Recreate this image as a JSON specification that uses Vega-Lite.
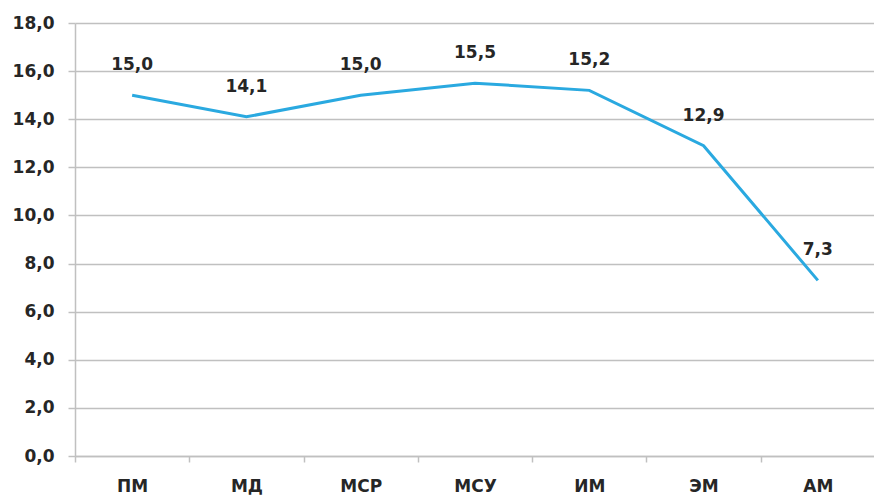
{
  "$schema": "https://vega.github.io/schema/vega-lite/v6.json",
  "width": 800,
  "height": 433,
  "autosize": "none",
  "padding": {"left": 75, "top": 23, "right": 0, "bottom": 41},
  "background": "white",
  "config": {
    "locale": {"number": {"decimal": ",", "thousands": " ", "grouping": [3], "currency": ["", " ₽"]}},
    "view": {"stroke": null},
    "font": "DejaVu Sans"
  },
  "data": {
    "values": [
      {"cat": "ПМ", "v": 15.0},
      {"cat": "МД", "v": 14.1},
      {"cat": "МСР", "v": 15.0},
      {"cat": "МСУ", "v": 15.5},
      {"cat": "ИМ", "v": 15.2},
      {"cat": "ЭМ", "v": 12.9},
      {"cat": "АМ", "v": 7.3}
    ]
  },
  "encoding": {
    "x": {
      "field": "cat", "type": "nominal", "sort": null, "bandPosition": 0.5,
      "scale": {"type": "band", "paddingInner": 0, "paddingOuter": 0},
      "axis": {
        "title": null, "labelAngle": 0, "labelFont": "DejaVu Sans", "labelFontWeight": "bold",
        "labelFontSize": 17, "labelColor": "#262626", "labelPadding": 16,
        "domainColor": "#c0c0c0", "domainWidth": 1.5, "tickColor": "#c0c0c0", "tickWidth": 1.5,
        "tickSize": 6, "tickBand": "extent", "grid": false
      }
    },
    "y": {
      "field": "v", "type": "quantitative",
      "scale": {"domain": [0, 18], "nice": false},
      "axis": {
        "title": null, "values": [0, 2, 4, 6, 8, 10, 12, 14, 16, 18], "format": ".1f",
        "labelFont": "DejaVu Sans", "labelFontWeight": "bold", "labelFontSize": 17,
        "labelColor": "#262626", "labelPadding": 14,
        "domainColor": "#c0c0c0", "domainWidth": 1.5, "tickColor": "#c0c0c0", "tickWidth": 1.5,
        "tickSize": 7, "grid": true, "gridColor": "#c0c0c0", "gridWidth": 1.5
      }
    }
  },
  "layer": [
    {"mark": {"type": "line", "color": "#2aa9e0", "strokeWidth": 3}},
    {
      "mark": {"type": "text", "fontWeight": "bold", "fontSize": 17, "font": "DejaVu Sans", "color": "#262626", "baseline": "alphabetic", "dy": -25},
      "encoding": {"text": {"field": "v", "type": "quantitative", "format": ".1f"}}
    }
  ]
}
